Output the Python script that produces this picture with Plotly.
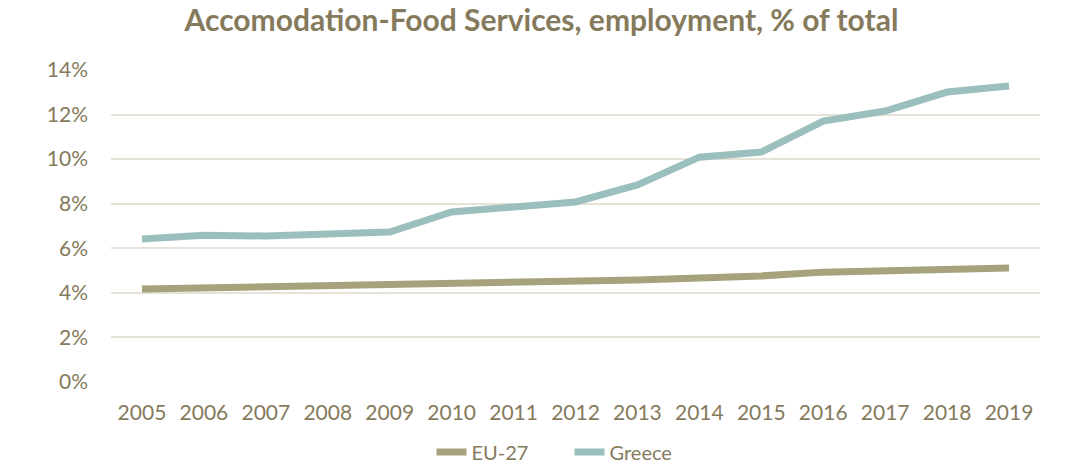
import plotly.graph_objects as go

years = [str(y) for y in range(2005, 2020)]
eu27 = [4.17, 4.22, 4.22, 4.26, 4.35, 4.40, 4.44, 4.49, 4.58, 4.67, 4.76, 4.93, 4.98, 5.07, 5.11]
greece = [6.42, 6.59, 6.55, 6.64, 6.73, 7.63, 7.85, 8.08, 8.84, 10.09, 10.32, 11.71, 12.16, 13.01, 13.28]
yticks = [0, 2, 4, 6, 8, 10, 12, 14]

text_color = "#857A5C"
font = "Lato, 'Open Sans', sans-serif"

fig = go.Figure()
fig.add_trace(go.Scatter(x=years, y=eu27, mode="lines", name="EU-27",
                         line=dict(color="#A6A27B", width=7)))
fig.add_trace(go.Scatter(x=years, y=greece, mode="lines", name="Greece",
                         line=dict(color="#9BBFBD", width=7)))

fig.update_layout(
    width=1068, height=466,
    margin=dict(l=111, r=28, t=70, b=84, autoexpand=False),
    paper_bgcolor="white", plot_bgcolor="white",
    title=dict(text="<b>Accomodation-Food Services, employment, % of total</b>",
               x=0.507, xanchor="center", y=0.955, yanchor="middle",
               font=dict(family=font, size=30, color=text_color)),
    font=dict(family=font, color=text_color, size=21),
    showlegend=True,
    legend=dict(orientation="h", x=0.345, xanchor="left", yref="container",
                y=0.03, yanchor="middle", entrywidth=93, entrywidthmode="pixels",
                font=dict(size=20, color=text_color)),
    xaxis=dict(type="category", showgrid=False, zeroline=False, showline=False,
               ticks="", ticklabelstandoff=16,
               tickfont=dict(size=21, color=text_color), range=[-0.5, 14.5]),
    yaxis=dict(range=[0, 14], tickvals=yticks, ticktext=[f"{v}%" for v in yticks],
               showgrid=True, gridcolor="#E6E2D8", gridwidth=2, zeroline=False,
               ticks="", ticklabelstandoff=22, tickfont=dict(size=21, color=text_color)),
)

fig.write_html("out.html")
